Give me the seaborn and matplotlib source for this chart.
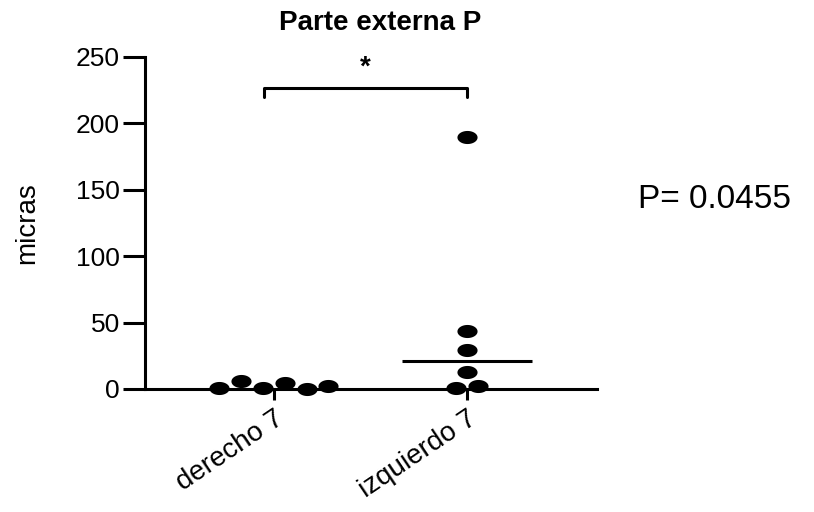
import numpy as np
import pandas as pd
import matplotlib
matplotlib.use("Agg")
import matplotlib.pyplot as plt
import seaborn as sns

# values (micras), in left-to-right order as drawn
groups = ["derecho 7", "izquierdo 7"]
derecho = [1, 6, 1, 4.5, 0, 2.5]
izquierdo = [190, 44, 29, 13, 0.5, 2.3]
yticks = [0, 50, 100, 150, 200, 250]


def scatter_x(vals, center, spacing=0.113, tol=8):
    # Prism-style layout: values that would overlap sit side by side in a row
    vals = np.asarray(vals, dtype=float)
    order = np.argsort(vals, kind="stable")
    rows, row = [], [order[0]]
    for i in order[1:]:
        if vals[i] - vals[row[0]] < tol:
            row.append(i)
        else:
            rows.append(row)
            row = [i]
    rows.append(row)
    x = np.full(len(vals), float(center))
    for row in rows:
        row = sorted(row)
        for k, i in enumerate(row):
            x[i] = center + (k - (len(row) - 1) / 2) * spacing
    return x


df = pd.DataFrame({
    "grupo": [groups[0]] * len(derecho) + [groups[1]] * len(izquierdo),
    "micras": derecho + izquierdo,
})
df["pos"] = np.concatenate([scatter_x(derecho, 0), scatter_x(izquierdo, 1)])

sns.set_style("ticks")
plt.rcParams["font.family"] = ["Liberation Sans", "DejaVu Sans"]
plt.rcParams["text.color"] = "black"
plt.rcParams["axes.labelcolor"] = "black"
plt.rcParams["xtick.color"] = "black"
plt.rcParams["ytick.color"] = "black"

fig = plt.figure(figsize=(8.14, 5.12), dpi=100)
ax = fig.add_axes([145 / 814, 123 / 512, 452 / 814, 332 / 512])

# slightly flattened dots like the original
t = np.linspace(0, 2 * np.pi, 60)
ellipse = np.column_stack([np.cos(t), 0.65 * np.sin(t)])

sns.scatterplot(data=df, x="pos", y="micras", ax=ax, color="black",
                s=14.5 ** 2, marker=ellipse, linewidth=0, clip_on=False,
                zorder=5, legend=False)

# median line (the one for derecho sits on the axis and is not visible)
ax.plot([1 - 0.335, 1 + 0.335], [np.median(izquierdo)] * 2, color="black",
        lw=2.2, solid_capstyle="butt", zorder=4)

ax.set_xlim(-0.668, 1.674)
ax.set_ylim(0, 250)
ax.set_xticks(range(len(groups)))
ax.set_xticklabels(groups)
ax.set_yticks(yticks)
ax.set_xlabel("")
ax.set_ylabel("micras", fontsize=20, labelpad=26)
ax.tick_params(axis="y", length=16, width=2.2, labelsize=19, pad=2)
ax.tick_params(axis="x", length=8, width=2.2, labelsize=20, pad=4)
plt.setp(ax.get_xticklabels(), rotation=34, ha="right", rotation_mode="anchor")
for side in ["left", "bottom"]:
    ax.spines[side].set_linewidth(2.2)
    ax.spines[side].set_color("black")
sns.despine(ax=ax)

# significance bracket
ax.plot([-0.05, -0.05, 1.0, 1.0], [220, 227, 227, 220], color="black",
        lw=2.2, clip_on=False)
ax.text(0.475, 232, "*", ha="center", va="bottom", fontsize=20,
        fontweight="bold")

fig.text(380 / 814, 1 - 23 / 512, "Parte externa P", ha="center",
         va="center", fontsize=20, fontweight="bold")
fig.text(638 / 814, 1 - 200 / 512, "P= 0.0455", ha="left", va="center",
         fontsize=24)

fig.savefig("out.png", dpi=100)
